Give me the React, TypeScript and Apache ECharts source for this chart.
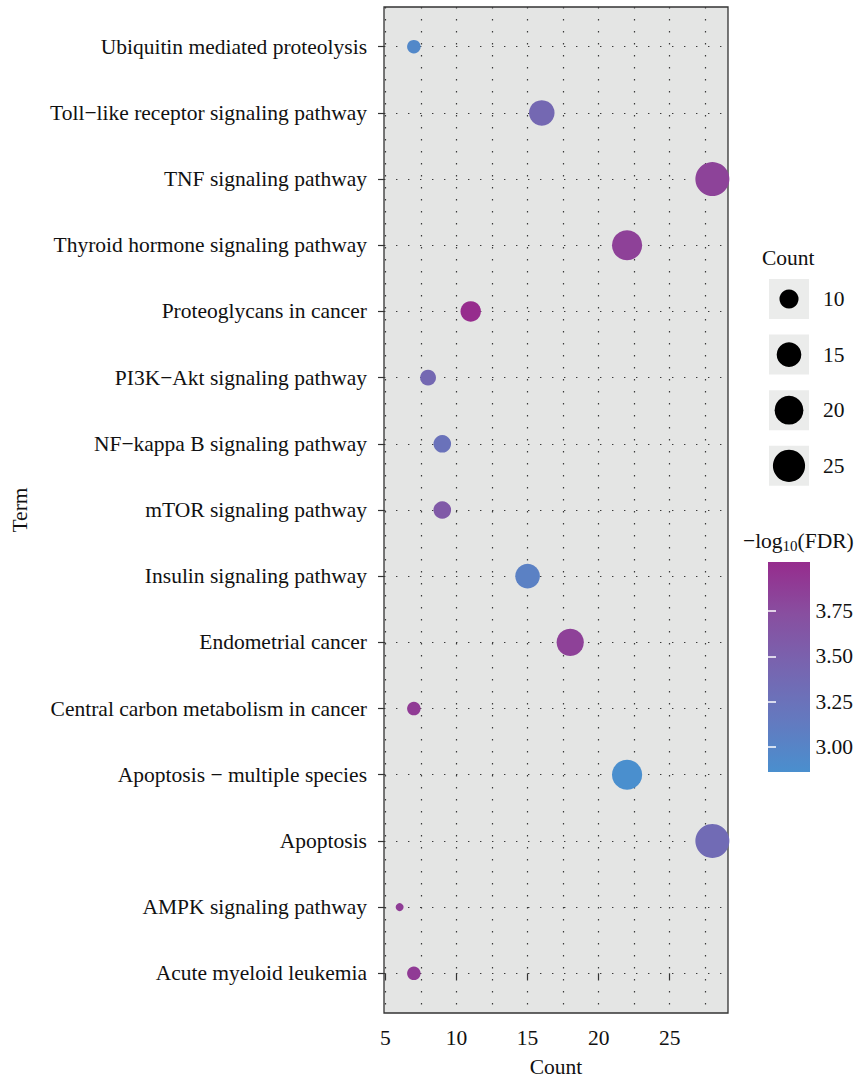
import React, { useEffect, useRef } from 'react';
import * as echarts from 'echarts';

// ---- data (bottom to top, as drawn) ----
const terms = [
  'Acute myeloid leukemia',
  'AMPK signaling pathway',
  'Apoptosis',
  'Apoptosis − multiple species',
  'Central carbon metabolism in cancer',
  'Endometrial cancer',
  'Insulin signaling pathway',
  'mTOR signaling pathway',
  'NF−kappa B signaling pathway',
  'PI3K−Akt signaling pathway',
  'Proteoglycans in cancer',
  'Thyroid hormone signaling pathway',
  'TNF signaling pathway',
  'Toll−like receptor signaling pathway',
  'Ubiquitin mediated proteolysis',
];
const counts = [7, 6, 28, 22, 7, 18, 15, 9, 9, 8, 11, 22, 28, 16, 7];
const negLogFdr = [3.9, 3.88, 3.35, 2.862, 3.9, 3.85, 3.05, 3.6, 3.25, 3.4, 4.02, 3.85, 3.83, 3.4, 2.95];

const xTickValues = [5, 10, 15, 20, 25];
const sizeLegendValues = [10, 15, 20, 25];
const colorTickValues = [3.0, 3.25, 3.5, 3.75];
const colorStops = ['#4A8FCE', '#6479BF', '#7765B0', '#884FA0', '#962C8D'];

const FONT = '"Liberation Serif", "DejaVu Serif", serif';
const FS = 21.5;
const TXT = '#111111';

const cMin = Math.min(...counts);
const cMax = Math.max(...counts);
const sizeFn = (c: number) => 8 + 26 * Math.sqrt(Math.max(0, (c - cMin) / (cMax - cMin)));
const fMin = Math.min(...negLogFdr);
const fMax = Math.max(...negLogFdr);

const dotted = { color: '#3a3a3a', type: [1.4, 10.6] as any, width: 1.2 };

export default function App() {
  const ref = useRef<HTMLDivElement>(null);
  useEffect(() => {
    if (!ref.current) return;
    const chart = echarts.init(ref.current, undefined, { renderer: 'svg' });

    const legendTop = 299;
    const legendStep = 55.6;
    const sizeLegend: any[] = [];
    sizeLegendValues.forEach((v, i) => {
      const cy = legendTop + i * legendStep;
      sizeLegend.push({
        type: 'rect',
        shape: { x: 769, y: cy - 20, width: 40, height: 40 },
        style: { fill: '#EBECEB' },
      });
      sizeLegend.push({
        type: 'circle',
        shape: { cx: 789, cy, r: sizeFn(v) / 2 },
        style: { fill: '#000' },
      });
      sizeLegend.push({
        type: 'text',
        x: 823,
        y: cy,
        style: { text: String(v), font: `${FS}px ${FONT}`, fill: TXT, verticalAlign: 'middle', align: 'left' },
      });
    });

    const n = colorStops.length;
    const gradStops = colorStops
      .map((c, i) => ({ offset: 1 - i / (n - 1), color: c }))
      .reverse();

    chart.setOption({
      animation: false,
      grid: [
        {
          left: 384, top: 7, width: 344, height: 1006,
          show: true, backgroundColor: '#E4E5E4', borderColor: '#333', borderWidth: 1.3,
        },
        { left: 768, top: 562, width: 42, height: 210, show: false },
      ],
      xAxis: [
        {
          type: 'value', gridIndex: 0, min: 4.9, max: 29.1,
          name: 'Count', nameLocation: 'middle', nameGap: 43,
          nameTextStyle: { fontSize: FS, fontFamily: FONT, color: TXT },
          axisLine: { show: false },
          axisTick: { show: true, length: 6, lineStyle: { color: '#333', width: 1.2 }, customValues: xTickValues },
          axisLabel: { customValues: xTickValues, fontSize: FS, fontFamily: FONT, color: TXT, margin: 14 },
          splitLine: { show: true, lineStyle: dotted },
          minorTick: { show: false, splitNumber: 2 },
          minorSplitLine: { show: true, lineStyle: dotted },
        },
        { type: 'value', gridIndex: 1, show: false, min: 0, max: 1 },
      ],
      yAxis: [
        {
          type: 'value', gridIndex: 0, min: -0.6, max: 14.6,
          name: 'Term', nameLocation: 'middle', nameGap: 353,
          nameTextStyle: { fontSize: FS, fontFamily: FONT, color: TXT },
          axisLine: { show: false },
          axisTick: { show: true, length: 6, lineStyle: { color: '#333', width: 1.2 }, customValues: terms.map((_, i) => i) },
          axisLabel: {
            customValues: terms.map((_, i) => i),
            formatter: (v: number) => terms[Math.round(v)] ?? '',
            fontSize: FS, fontFamily: FONT, color: TXT, margin: 17,
          },
          splitLine: { show: true, lineStyle: dotted },
        },
        {
          type: 'value', gridIndex: 1, min: fMin, max: fMax, position: 'right', z: 10,
          axisLine: { show: false },
          axisTick: { show: true, inside: true, length: 8, lineStyle: { color: '#fff', width: 1.5 }, customValues: colorTickValues },
          axisLabel: {
            customValues: colorTickValues,
            formatter: (v: number) => v.toFixed(2),
            fontSize: FS, fontFamily: FONT, color: TXT, margin: 10,
          },
          splitLine: { show: false },
        },
        {
          type: 'value', gridIndex: 1, min: fMin, max: fMax, position: 'left', z: 10,
          axisLine: { show: false },
          axisTick: { show: true, inside: true, length: 8, lineStyle: { color: '#fff', width: 1.5 }, customValues: colorTickValues },
          axisLabel: { show: false },
          splitLine: { show: false },
        },
      ],
      visualMap: {
        type: 'continuous', show: false, dimension: 2, seriesIndex: 0,
        min: fMin, max: fMax, inRange: { color: colorStops },
      },
      series: [
        {
          type: 'scatter', xAxisIndex: 0, yAxisIndex: 0,
          data: terms.map((_, i) => [counts[i], i, negLogFdr[i]]),
          symbol: 'circle',
          symbolSize: (d: number[]) => sizeFn(d[0]),
          itemStyle: { opacity: 1 },
          z: 5,
        },
      ],
      graphic: [
        {
          type: 'text', x: 762, y: 258,
          style: { text: 'Count', font: `${FS}px ${FONT}`, fill: TXT, verticalAlign: 'middle', align: 'left' },
        },
        ...sizeLegend,
        {
          type: 'text', x: 743, y: 541,
          style: {
            text: '{a|−log}{b|10}{a|(FDR)}',
            verticalAlign: 'middle', align: 'left',
            rich: {
              a: { fontSize: FS, fontFamily: FONT, fill: TXT, color: TXT },
              b: { fontSize: 15, fontFamily: FONT, fill: TXT, color: TXT, padding: [9, 0, 0, 0] },
            },
          },
        },
        {
          type: 'rect', z: 0,
          shape: { x: 768, y: 562, width: 42, height: 210 },
          style: { fill: new echarts.graphic.LinearGradient(0, 0, 0, 1, gradStops) },
        },
      ],
    });
    return () => chart.dispose();
  }, []);
  return <div ref={ref} style={{ position: 'absolute', left: 0, top: 0, width: 856, height: 1083 }} />;
}
